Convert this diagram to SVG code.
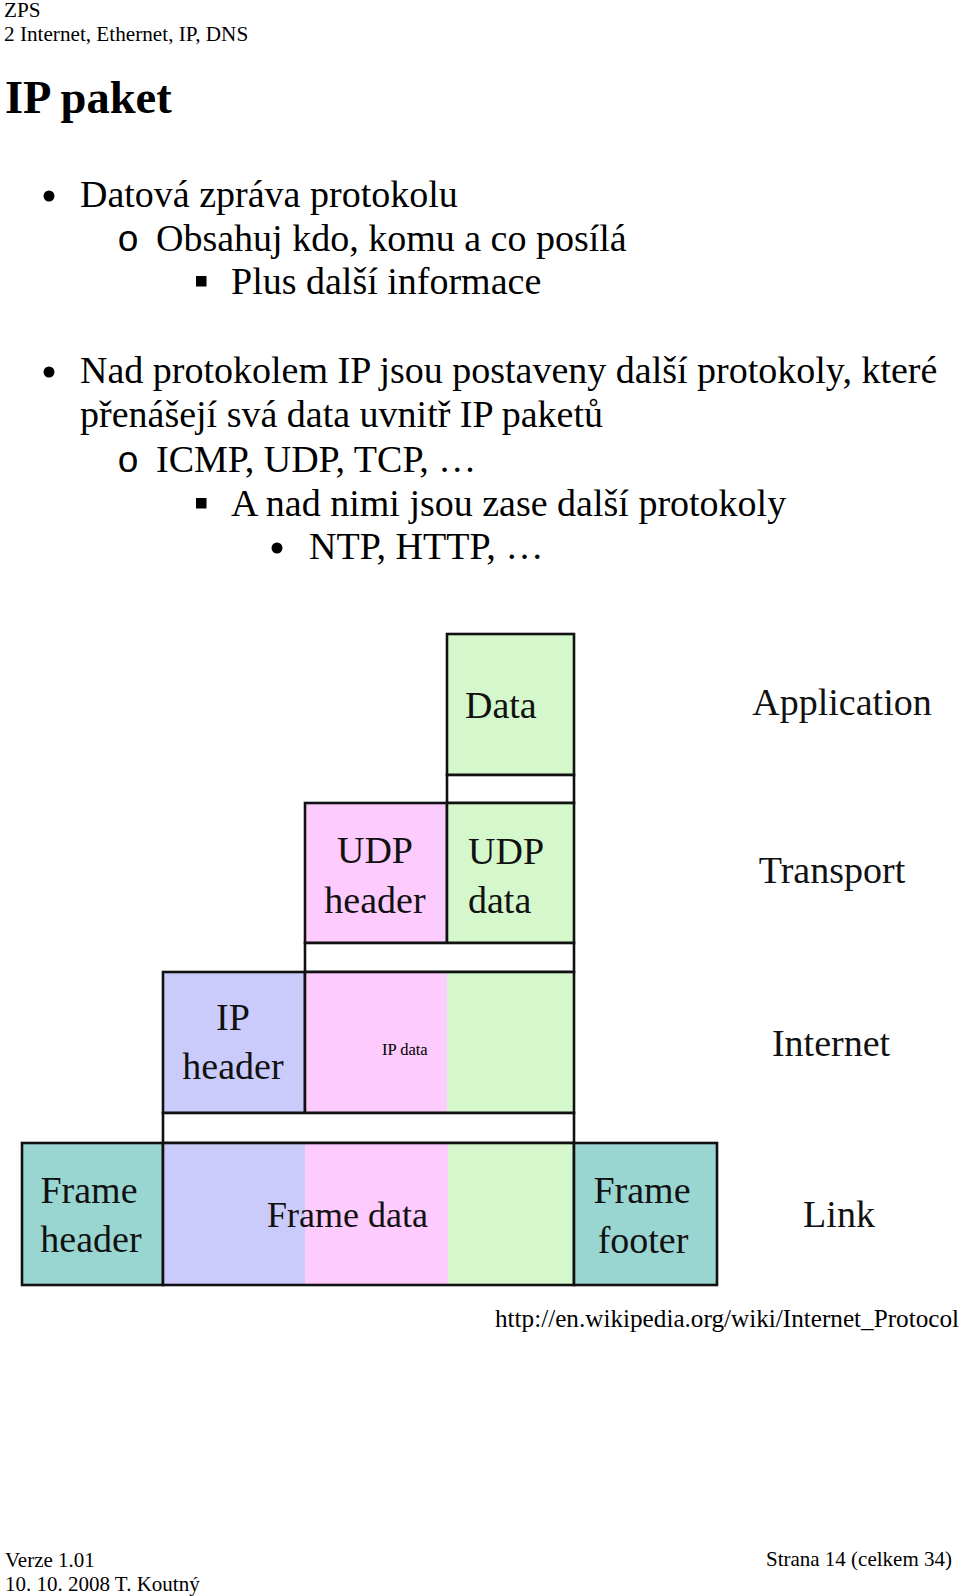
<svg xmlns="http://www.w3.org/2000/svg" width="960" height="1596" viewBox="0 0 960 1596">
<style>
  text { font-family: "Liberation Serif", "Times New Roman", serif; fill: #000; }
  .hdr { font-size: 21.2px; }
  .ftr { font-size: 21px; }
  .title { font-size: 46.5px; font-weight: bold; }
  .body { font-size: 38px; }
  .mono { font-family: "Liberation Mono", "Courier New", monospace; font-size: 37px; }
  .lbl { font-size: 38px; fill: #111; }
  .mid { text-anchor: middle; }
  .box { stroke: #111; stroke-width: 2.6; }
  .edge { fill: none; stroke: #111; stroke-width: 2.6; }
  .green { fill: #d5f7cc; }
  .pink { fill: #fdcbfd; }
  .blue { fill: #cbcbfb; }
  .teal { fill: #99d6d2; }
  .white { fill: #ffffff; }
</style>
<rect x="0" y="0" width="960" height="1596" fill="#ffffff"/>

<g id="page-header">
  <text class="hdr" x="4" y="17">ZPS</text>
  <text class="hdr" x="4" y="41">2 Internet, Ethernet, IP, DNS</text>
  <text class="title" x="5" y="113">IP paket</text>
</g>

<g id="bullets">
  <circle cx="49" cy="196" r="5.5" fill="#000"/>
  <text class="body" x="80" y="207">Datová zpráva protokolu</text>
  <text class="mono" x="117" y="250.5">o</text>
  <text class="body" x="156" y="250.5">Obsahuj kdo, komu a co posílá</text>
  <rect x="196" y="276" width="10.5" height="10.5" fill="#000"/>
  <text class="body" x="231" y="293.5">Plus další informace</text>

  <circle cx="49" cy="372" r="5.5" fill="#000"/>
  <text class="body" x="80" y="383">Nad protokolem IP jsou postaveny další protokoly, které</text>
  <text class="body" x="80" y="427">přenášejí svá data uvnitř IP paketů</text>
  <text class="mono" x="117" y="472">o</text>
  <text class="body" x="156" y="472">ICMP, UDP, TCP, <tspan letter-spacing="3">…</tspan></text>
  <rect x="196" y="498" width="10.5" height="10.5" fill="#000"/>
  <text class="body" x="231" y="515.5">A nad nimi jsou zase další protokoly</text>
  <circle cx="277" cy="548" r="5.5" fill="#000"/>
  <text class="body" x="309" y="559">NTP, HTTP, <tspan letter-spacing="3">…</tspan></text>
</g>

<g id="connectors"></g>

<g id="node-data">
  <rect class="box green" x="447" y="634" width="127" height="141"/>
  <text class="lbl" x="465" y="718">Data</text>
</g>
<g id="strip-app">
  <rect class="box white" x="447" y="775" width="127" height="28"/>
</g>

<g id="node-udp-header">
  <rect class="box pink" x="305" y="803" width="142" height="140"/>
  <text class="lbl mid" x="375" y="863">UDP</text>
  <text class="lbl mid" x="375" y="913">header</text>
</g>
<g id="node-udp-data">
  <rect class="box green" x="447" y="803" width="127" height="140"/>
  <text class="lbl" x="468" y="864">UDP</text>
  <text class="lbl" x="468" y="913">data</text>
</g>
<g id="strip-transport">
  <rect class="box white" x="305" y="943" width="269" height="29"/>
</g>

<g id="node-ip-header">
  <rect class="box blue" x="163" y="972" width="142" height="141"/>
  <text class="lbl mid" x="233" y="1030">IP</text>
  <text class="lbl mid" x="233" y="1079">header</text>
</g>
<g id="node-ip-data">
  <rect class="pink" x="305" y="972" width="142" height="141"/>
  <rect class="green" x="447" y="972" width="127" height="141"/>
  <rect class="edge" x="305" y="972" width="269" height="141"/>
  <text x="382" y="1055" style="font-size:16.5px">IP data</text>
</g>
<g id="strip-internet">
  <rect class="box white" x="163" y="1113" width="411" height="30"/>
</g>

<g id="node-frame-header">
  <rect class="box teal" x="22" y="1143" width="141" height="142"/>
  <text class="lbl mid" x="89" y="1203">Frame</text>
  <text class="lbl mid" x="91" y="1252">header</text>
</g>
<g id="node-frame-data">
  <rect class="blue" x="163" y="1143" width="142" height="142"/>
  <rect class="pink" x="305" y="1143" width="143" height="142"/>
  <rect class="green" x="448" y="1143" width="126" height="142"/>
  <rect class="edge" x="163" y="1143" width="411" height="142"/>
  <text class="lbl" x="267" y="1227" style="font-size:36px">Frame data</text>
</g>
<g id="node-frame-footer">
  <rect class="box teal" x="574" y="1143" width="143" height="142"/>
  <text class="lbl mid" x="642" y="1203">Frame</text>
  <text class="lbl mid" x="643" y="1253">footer</text>
</g>

<g id="layer-labels">
  <text class="lbl mid" x="842" y="715">Application</text>
  <text class="lbl mid" x="832" y="883">Transport</text>
  <text class="lbl mid" x="831" y="1056">Internet</text>
  <text class="lbl mid" x="839" y="1227">Link</text>
</g>

<g id="source">
  <text x="495" y="1327" style="font-size:25.2px">http://en.wikipedia.org/wiki/Internet_Protocol</text>
</g>

<g id="page-footer">
  <text class="ftr" x="5" y="1567">Verze 1.01</text>
  <text class="ftr" x="5" y="1591">10. 10. 2008 T. Koutný</text>
  <text class="ftr" x="952" y="1566" text-anchor="end">Strana 14 (celkem 34)</text>
</g>
</svg>
